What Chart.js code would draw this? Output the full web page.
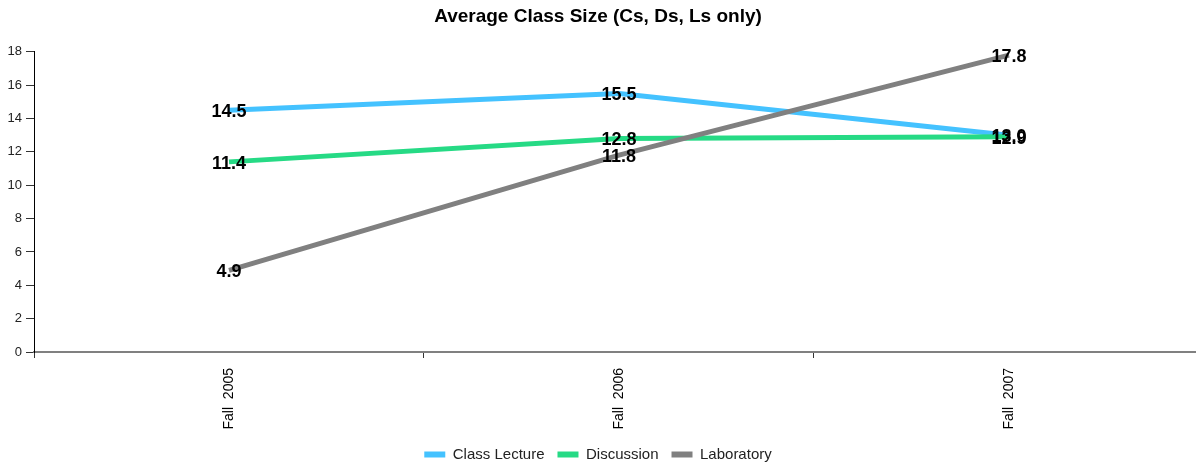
<!DOCTYPE html>
<html><head><meta charset="utf-8">
<script src="https://cdn.jsdelivr.net/npm/chart.js@4"></script>
<style>html,body{margin:0;padding:0;background:#fff}#wrap{width:1196px;height:465px}</style>
</head><body><div id="wrap"><canvas id="c"></canvas></div>
<script>
const categories = ["Fall  2005", "Fall  2006", "Fall  2007"];
const classLecture = [14.5, 15.5, 13.0];
const discussion = [11.4, 12.8, 12.9];
const laboratory = [4.9, 11.8, 17.8];
const seriesNames = ["Class Lecture", "Discussion", "Laboratory"];
const yTicks = [0, 2, 4, 6, 8, 10, 12, 14, 16, 18];

const FONT = "'Liberation Sans', Arial, sans-serif";
Chart.defaults.font.family = FONT;

const toPts = arr => arr.map((v, i) => ({x: i, y: v}));

const labelPlugin = {
  id: 'valueLabels',
  afterDatasetsDraw(chart) {
    const ctx = chart.ctx;
    ctx.save();
    ctx.font = "bold 18px " + FONT;
    ctx.fillStyle = '#000';
    ctx.textAlign = 'center';
    ctx.textBaseline = 'middle';
    chart.data.datasets.forEach((ds, di) => {
      const meta = chart.getDatasetMeta(di);
      meta.data.forEach((pt, i) => {
        ctx.fillText(ds.data[i].y.toFixed(1), pt.x, pt.y + 2);
      });
    });
    ctx.restore();
  }
};

new Chart(document.getElementById('c'), {
  type: 'line',
  data: {
    datasets: [
      {label: seriesNames[0], data: toPts(classLecture), borderColor: '#44C2FF', backgroundColor: '#44C2FF', order: 3},
      {label: seriesNames[1], data: toPts(discussion), borderColor: '#26DA85', backgroundColor: '#26DA85', order: 2},
      {label: seriesNames[2], data: toPts(laboratory), borderColor: '#808080', backgroundColor: '#808080', order: 1}
    ]
  },
  options: {
    responsive: true,
    maintainAspectRatio: false,
    animation: false,
    layout: {padding: {left: 0, right: 0, top: 0, bottom: -7}},
    elements: {
      line: {borderWidth: 5, tension: 0, borderCapStyle: 'butt'},
      point: {radius: 0, hoverRadius: 0}
    },
    plugins: {
      title: {
        display: true,
        text: 'Average Class Size (Cs, Ds, Ls only)',
        font: {size: 19, weight: 'bold', family: FONT},
        color: '#000',
        padding: {top: 5, bottom: 24}
      },
      legend: {
        position: 'bottom',
        labels: {
          boxWidth: 21, boxHeight: 6, color: '#222',
          font: {size: 15, family: FONT},
          padding: 13,
          sort: (a, b) => a.datasetIndex - b.datasetIndex,
          generateLabels: (chart) => Chart.defaults.plugins.legend.labels.generateLabels(chart).map(l => Object.assign(l, {lineWidth: 0}))
        }
      },
      tooltip: {enabled: false}
    },
    scales: {
      x: {
        type: 'linear',
        min: -0.5,
        max: -0.5 + 1162 / 390,
        afterBuildTicks: s => { s.ticks = categories.map((c, i) => ({value: i})); },
        afterFit: s => { s.height = 82; },
        ticks: {
          callback: (v) => categories[v] !== undefined ? categories[v] : '',
          minRotation: 90, maxRotation: 90,
          color: '#000', font: {size: 14, family: FONT},
          padding: 10, autoSkip: false
        },
        grid: {offset: true, drawOnChartArea: false, drawTicks: true, tickLength: 6, color: '#333'},
        border: {display: true, color: '#808080', width: 2}
      },
      y: {
        min: 0, max: 18,
        afterBuildTicks: s => { s.ticks = yTicks.map(v => ({value: v})); },
        afterFit: s => { s.width = 34; },
        ticks: {color: '#222', font: {size: 13, family: FONT}, padding: 4},
        grid: {drawOnChartArea: false, drawTicks: true, tickLength: 8, color: '#333'},
        border: {display: true, color: '#000', width: 1}
      }
    }
  },
  plugins: [labelPlugin]
});
</script></body></html>
